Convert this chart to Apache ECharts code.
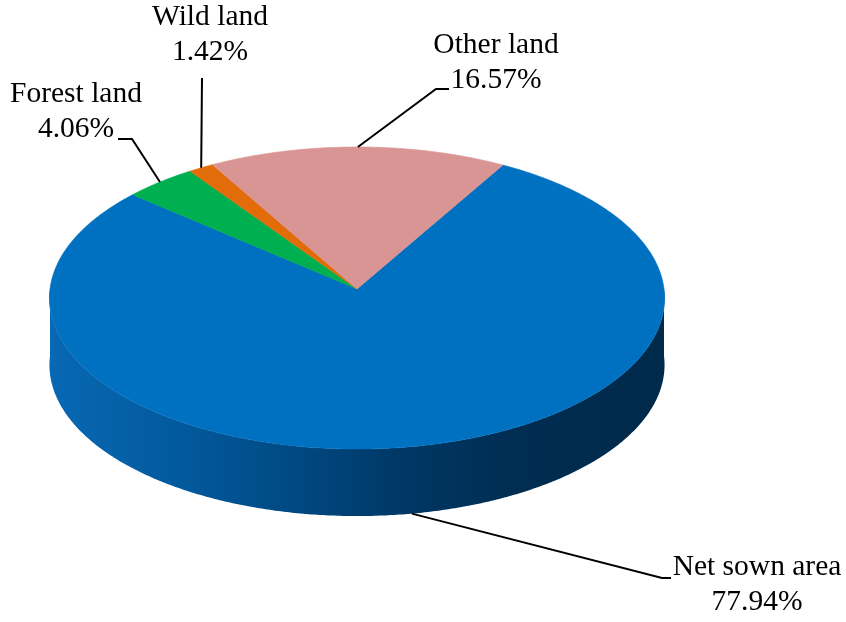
<!DOCTYPE html>
<html>
<head>
<meta charset="utf-8">
<title>Land use</title>
<script src="https://cdn.jsdelivr.net/npm/echarts@6/dist/echarts.min.js"></script>
<style>
  html, body { margin: 0; padding: 0; background: #ffffff; }
  #chart { width: 846px; height: 622px; }
</style>
</head>
<body>
<div id="chart"></div>
<script>
// Land-use shares (%), listed clockwise from the first slice
const categories = ['Net sown area', 'Forest land', 'Wild land', 'Other land'];
const shares = [77.94, 4.06, 1.42, 16.57];
const shareLabels = shares.map(v => v.toFixed(2) + '%');

// Slice colours (top faces)
const topColors = ['#0070C0', '#00B050', '#E36C0A', '#D99594'];

// Disc geometry: centre, radii, perspective strength and wall depth
const CX = 357, CY = 289, RX = 307, RY = 150.5, PERSP = 0.0596, DEPTH = 67;
const FIRST_ANGLE = 30; // degrees clockwise from 12 o'clock

// Label placement: text centre and leader-line bend points
const labelLayout = {
  'Net sown area': { center: [757, 585], bends: [[662, 578], [671, 578]] },
  'Forest land':   { center: [76, 112],  bends: [[132, 139], [118, 139]] },
  'Wild land':     { center: [210, 35],  bends: [[202, 78]] },
  'Other land':    { center: [496, 63],  bends: [[436, 89], [449, 89]] }
};

// Cumulative slice angles
const total = shares.reduce((s, v) => s + v, 0);
const sliceAngles = [];
(function () {
  let a = FIRST_ANGLE;
  shares.forEach(v => {
    const span = v / total * 360;
    sliceAngles.push([a, a + span]);
    a += span;
  });
})();

// Project a point on the disc (angle clockwise from top, radius fraction, height 0=top 1=bottom)
function project(theta, r, h) {
  const rad = theta * Math.PI / 180;
  const u = r * Math.sin(rad);
  const v = -r * Math.cos(rad);
  const f = 1 / (1 - PERSP * v);
  return [CX + RX * u * f, CY + RY * v * f + DEPTH * h];
}

function arcPoints(a0, a1, h) {
  const pts = [];
  const step = 0.5;
  if (a1 >= a0) {
    for (let t = a0; t < a1; t += step) pts.push(project(t, 1, h));
  } else {
    for (let t = a0; t > a1; t -= step) pts.push(project(t, 1, h));
  }
  pts.push(project(a1, 1, h));
  return pts;
}

// Portion of a slice's rim that faces the viewer (front half of the disc)
function frontRanges(a0, a1) {
  const out = [];
  [[90, 270], [450, 630]].forEach(([f0, f1]) => {
    const s = Math.max(a0, f0), e = Math.min(a1, f1);
    if (e > s) out.push([s, e]);
  });
  return out;
}

const wallFill = {
  type: 'linear', x: CX - RX, y: 0, x2: CX + RX, y2: 0, global: true,
  colorStops: [
    { offset: 0, color: '#0868b4' },
    { offset: 0.22, color: '#02599c' },
    { offset: 0.42, color: '#00477f' },
    { offset: 0.58, color: '#003764' },
    { offset: 0.75, color: '#002d52' },
    { offset: 1, color: '#002a4b' }
  ]
};

const seriesData = categories.map((name, i) => ({ name: name, value: shares[i] }));

const chart = echarts.init(document.getElementById('chart'), null, { renderer: 'canvas' });

chart.setOption({
  animation: false,
  backgroundColor: '#ffffff',
  series: [
    {
      // outer walls
      type: 'custom',
      coordinateSystem: 'none',
      z: 1,
      data: seriesData,
      renderItem: function (params, api) {
        const i = params.dataIndex;
        const [a0, a1] = sliceAngles[i];
        const children = frontRanges(a0, a1).map(([s, e]) => {
          const pts = arcPoints(s, e, 0).concat(arcPoints(e, s, 1));
          return {
            type: 'polygon',
            shape: { points: pts },
            style: { fill: wallFill, stroke: null }
          };
        });
        return { type: 'group', children: children };
      }
    },
    {
      // top faces
      type: 'custom',
      coordinateSystem: 'none',
      z: 2,
      data: seriesData,
      renderItem: function (params, api) {
        const i = params.dataIndex;
        const [a0, a1] = sliceAngles[i];
        const pts = [project(0, 0, 0)].concat(arcPoints(a0, a1, 0));
        return {
          type: 'polygon',
          shape: { points: pts },
          style: { fill: topColors[i], stroke: topColors[i], lineWidth: 0.6 }
        };
      }
    },
    {
      // labels with leader lines
      type: 'custom',
      coordinateSystem: 'none',
      z: 3,
      data: seriesData,
      renderItem: function (params, api) {
        const i = params.dataIndex;
        const name = categories[i];
        const layout = labelLayout[name];
        const [a0, a1] = sliceAngles[i];
        const mid = (a0 + a1) / 2;
        const m = ((mid % 360) + 360) % 360;
        const onFront = m > 90 && m < 270;
        const anchor = project(mid, 1, onFront ? 1 : 0);
        return {
          type: 'group',
          children: [
            {
              type: 'polyline',
              shape: { points: [anchor].concat(layout.bends) },
              style: { stroke: '#000000', lineWidth: 2, fill: null }
            },
            {
              type: 'text',
              style: {
                text: name + '\n' + shareLabels[i],
                x: layout.center[0],
                y: layout.center[1],
                align: 'center',
                verticalAlign: 'middle',
                fontFamily: '"Liberation Serif", "Times New Roman", serif',
                fontSize: 29.5,
                lineHeight: 35,
                fill: '#000000'
              }
            }
          ]
        };
      }
    }
  ]
});
</script>
</body>
</html>
